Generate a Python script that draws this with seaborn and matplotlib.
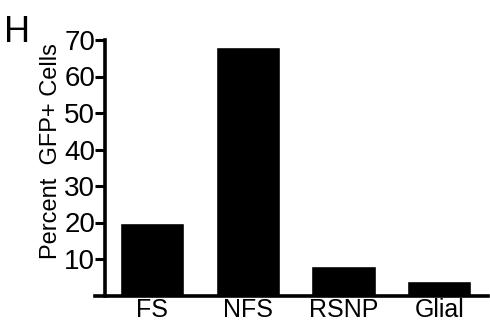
import pandas as pd
import seaborn as sns
import matplotlib.pyplot as plt

categories = ["FS", "NFS", "RSNP", "Glial"]
percent_gfp = [20, 68, 8, 4]
y_ticks = [10, 20, 30, 40, 50, 60, 70]

df = pd.DataFrame({"cell_type": categories, "percent": percent_gfp})

sns.set_style("ticks")
plt.rcParams["font.family"] = ["Liberation Sans", "DejaVu Sans"]
plt.rcParams["text.color"] = "black"
plt.rcParams["xtick.color"] = "black"
plt.rcParams["ytick.color"] = "black"
plt.rcParams["axes.labelcolor"] = "black"

fig = plt.figure(figsize=(4.9, 3.26), dpi=100)
ax = fig.add_axes([95 / 490, 1 - 295.5 / 326, 393 / 490, 255.5 / 326])

sns.barplot(data=df, x="cell_type", y="percent", color="black",
            width=0.67, saturation=1, ax=ax)

ax.set_xlim(-0.596, 3.51)
ax.set_ylim(0, 70)
ax.set_yticks(y_ticks)
ax.tick_params(axis="y", labelsize=20, length=7, width=2.2, pad=0,
               direction="out", colors="black")
ax.tick_params(axis="x", labelsize=18, length=0, pad=2, colors="black")

sns.despine(ax=ax)
ax.spines["left"].set_position(("axes", 10 / 393))
ax.spines["left"].set_linewidth(2.6)
ax.spines["bottom"].set_linewidth(2.6)
ax.spines["left"].set_color("black")
ax.spines["bottom"].set_color("black")

ax.set_xlabel("")
ax.set_ylabel("Percent  GFP+ Cells", fontsize=17)
ax.yaxis.set_label_coords(-0.085, 0.565)

fig.text(4 / 490, 1 - 42 / 326, "H", fontsize=26)

fig.savefig("out.png", dpi=100)
